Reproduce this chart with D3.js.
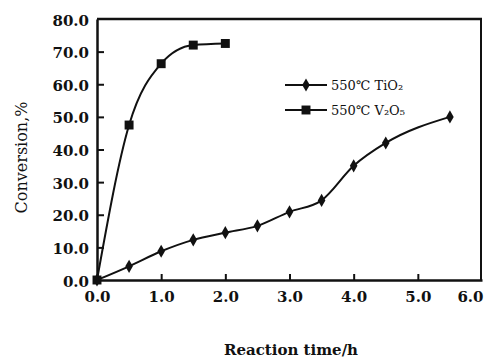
<!DOCTYPE html>
<html>
<head>
<meta charset="utf-8">
<script src="https://cdn.jsdelivr.net/npm/d3@7"></script>
<style>
  body { margin: 0; background: #fff; }
  text { font-family: "DejaVu Serif", "Liberation Serif", serif; fill: #111; }
</style>
</head>
<body>
<svg id="chart" width="484" height="361"></svg>
<script>
// data
const tioTime = [0, 0.5, 1.0, 1.5, 2.0, 2.5, 3.0, 3.5, 4.0, 4.5, 5.5]
const tioConv = [0, 4.2, 8.8, 12.3, 14.5, 16.6, 20.9, 24.4, 35.0, 42.0, 50.0]
const vTime = [0, 0.5, 1.0, 1.5, 2.0]
const vConv = [0, 47.5, 66.3, 72.0, 72.5]
const xTicks = [0, 1, 2, 3, 4, 5, 6]
const yTicks = [0, 10, 20, 30, 40, 50, 60, 70, 80]
const seriesNames = ['550\u2103 TiO\u2082', '550\u2103 V\u2082O\u2085']

const svg = d3.select('#chart')
const margin = { left: 97, right: 2, top: 19, bottom: 81 }
const W = 484, H = 361

const x = d3.scaleLinear().domain([0, 6]).range([margin.left, W - margin.right])
const y = d3.scaleLinear().domain([0, 80]).range([H - margin.bottom, margin.top])

const ink = '#111'

// axes, ticks inward
const xAxis = d3.axisBottom(x).tickValues(xTicks).tickSizeInner(-6).tickSizeOuter(0).tickFormat(d3.format('.1f'))
const yAxis = d3.axisLeft(y).tickValues(yTicks).tickSizeInner(-7).tickSizeOuter(0).tickFormat(d3.format('.1f'))

const gx = svg.append('g').attr('transform', `translate(0,${y(0)})`).call(xAxis)
gx.select('.domain').attr('stroke', ink).attr('stroke-width', 2.5)
gx.selectAll('.tick line').attr('stroke', ink).attr('stroke-width', 2)
gx.selectAll('.tick text').attr('dy', 0).attr('y', 22)
  .style('font-size', '15px').style('font-weight', 'bold').style('fill', ink)
gx.selectAll('.tick').filter(d => d === 0 || d === 6).select('line').remove()
// last label sits against the right edge
gx.selectAll('.tick').filter(d => d === 6).select('text').attr('text-anchor', 'end').attr('x', 1)

const gy = svg.append('g').attr('transform', `translate(${x(0)},0)`).call(yAxis)
gy.select('.domain').attr('stroke', ink).attr('stroke-width', 2.5)
gy.selectAll('.tick line').attr('stroke', ink).attr('stroke-width', 2)
gy.selectAll('.tick text').attr('x', -8).attr('dy', '0.4em')
  .style('font-size', '15px').style('font-weight', 'bold').style('fill', ink)
gy.selectAll('.tick').filter(d => d === 0 || d === 80).select('line').remove()

// frame top and right
svg.append('line').attr('x1', x(0)).attr('x2', x(6)).attr('y1', y(80)).attr('y2', y(80))
  .attr('stroke', ink).attr('stroke-width', 2.5)
svg.append('line').attr('x1', x(6) - 1).attr('x2', x(6) - 1).attr('y1', y(80)).attr('y2', y(0))
  .attr('stroke', ink).attr('stroke-width', 2)

// axis titles
svg.append('text').attr('transform', `translate(27,${(y(0) + y(80)) / 2 + 8}) rotate(-90)`)
  .attr('text-anchor', 'middle').style('font-size', '16px').text('Conversion,%')
svg.append('text').attr('x', 291).attr('y', 355)
  .attr('text-anchor', 'middle').style('font-size', '15px').style('font-weight', 'bold')
  .text('Reaction time/h')

// lines
const line = d3.line().x(d => x(d[0])).y(d => y(d[1])).curve(d3.curveMonotoneX)
const tio = tioTime.map((t, i) => [t, tioConv[i]])
const vo = vTime.map((t, i) => [t, vConv[i]])

svg.append('path').datum(tio).attr('d', line).attr('fill', 'none').attr('stroke', ink).attr('stroke-width', 2)
svg.append('path').datum(vo).attr('d', line).attr('fill', 'none').attr('stroke', ink).attr('stroke-width', 2)

const diamond = d3.symbol().type(d3.symbolDiamond).size(50)
const square = d3.symbol().type(d3.symbolSquare).size(80)

svg.selectAll('.dia').data(tio).join('path').attr('class', 'dia')
  .attr('transform', d => `translate(${x(d[0])},${y(d[1])})`).attr('d', diamond).attr('fill', ink)
svg.selectAll('.sq').data(vo).join('path').attr('class', 'sq')
  .attr('transform', d => `translate(${x(d[0])},${y(d[1])})`).attr('d', square).attr('fill', ink)

// legend
const legend = [
  { name: seriesNames[0], sym: diamond, yy: 85 },
  { name: seriesNames[1], sym: square, yy: 110 }
]
legend.forEach(l => {
  svg.append('line').attr('x1', 285).attr('x2', 327).attr('y1', l.yy).attr('y2', l.yy)
    .attr('stroke', ink).attr('stroke-width', 2)
  svg.append('path').attr('d', l.sym).attr('transform', `translate(306,${l.yy})`).attr('fill', ink)
  svg.append('text').attr('x', 331).attr('y', l.yy).attr('dy', '0.35em')
    .style('font-size', '13px').text(l.name)
})
</script>
</body>
</html>
